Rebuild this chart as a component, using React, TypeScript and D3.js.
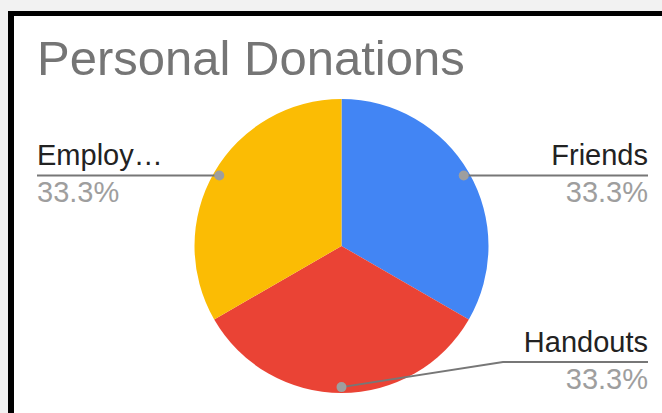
import React, { useEffect } from "react";
import * as d3 from "d3";

const title = "Personal Donations";
const categories = ["Friends", "Handouts", "Employ…"];
const values = [1, 1, 1];
const colors = ["#4285F4", "#EA4335", "#FBBC04"];

const W = 662;
const H = 413;
const cx = 341.5;
const cy = 246;
const R = 147;
const FONT = "'Liberation Sans', Arial, sans-serif";

export default function App() {
  useEffect(() => {
    document.body.style.margin = "0";
  }, []);

  const total = d3.sum(values);
  const pie = d3
    .pie<number>()
    .sort(null)
    .startAngle(0)
    .endAngle(2 * Math.PI);
  const arcs = pie(values);
  const arc = d3.arc<d3.PieArcDatum<number>>().innerRadius(0).outerRadius(R);
  const dotArc = d3
    .arc<d3.PieArcDatum<number>>()
    .innerRadius(R * 0.96)
    .outerRadius(R * 0.96);
  const fmt = d3.format(".1%");

  // label layout: side and line y (layout, not data)
  const layout = [
    { side: "right", lineY: null as number | null, bendX: null as number | null },
    { side: "right", lineY: 362, bendX: 503 },
    { side: "left", lineY: null as number | null, bendX: null as number | null },
  ];
  const leftX = 37;
  const rightX = 648;

  return (
    <svg width={W} height={H} style={{ display: "block" }}>
      <rect x={0} y={0} width={W} height={H} fill="#f2f2f2" />
      <rect x={8} y={11} width={W - 8} height={H - 11} fill="#000" />
      <rect x={14} y={16} width={W - 14} height={H - 16} fill="#fff" />
      <text
        x={37}
        y={75}
        fontFamily={FONT}
        fontSize={49}
        fill="#757575"
      >
        {title}
      </text>
      <g transform={`translate(${cx},${cy})`}>
        {arcs.map((a, i) => (
          <path key={i} d={arc(a) || ""} fill={colors[i]} />
        ))}
      </g>
      {arcs.map((a, i) => {
        const [dx, dy] = dotArc.centroid(a);
        const px = cx + dx;
        const py = cy + dy;
        const L = layout[i];
        const ly = L.lineY ?? py;
        const endX = L.side === "right" ? rightX : leftX;
        let pts: [number, number][];
        if (L.bendX != null) {
          pts = [
            [px, py],
            [L.bendX, ly],
            [endX, ly],
          ];
        } else {
          pts = [
            [px, py],
            [endX, ly],
          ];
        }
        const line = d3.line();
        const anchor = L.side === "right" ? "end" : "start";
        const tx = L.side === "right" ? rightX : leftX;
        return (
          <g key={"l" + i}>
            <path d={line(pts) || ""} fill="none" stroke="#777" strokeWidth={2} />
            <circle cx={px} cy={py} r={5} fill="#9e9e9e" />
            <text
              x={tx}
              y={ly - 10}
              textAnchor={anchor}
              fontFamily={FONT}
              fontSize={29}
              fill="#222"
            >
              {categories[i]}
            </text>
            <text
              x={tx}
              y={ly + 27}
              textAnchor={anchor}
              fontFamily={FONT}
              fontSize={29}
              fill="#9e9e9e"
            >
              {fmt(values[i] / total)}
            </text>
          </g>
        );
      })}
    </svg>
  );
}
